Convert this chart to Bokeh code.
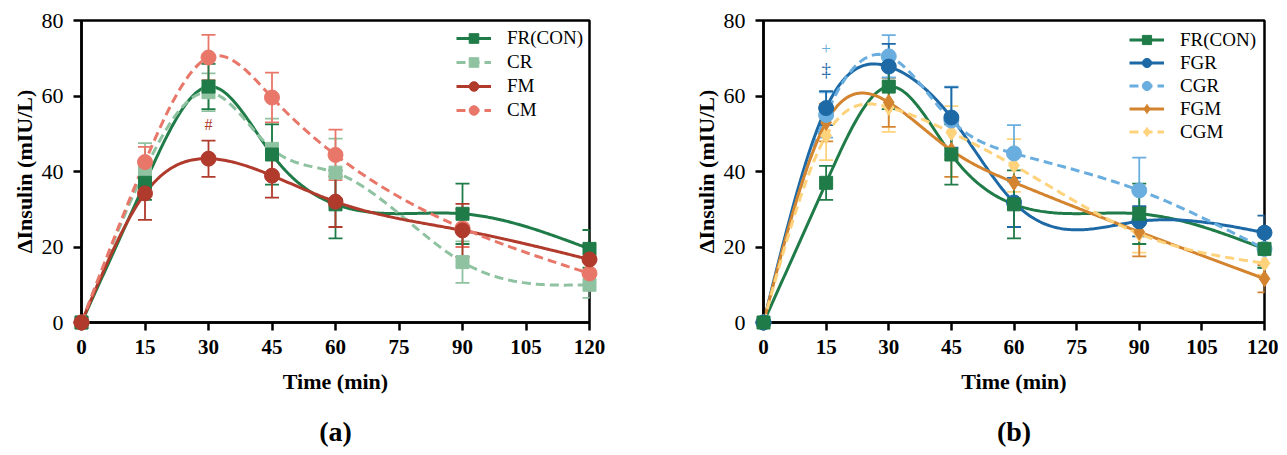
import numpy as np
from bokeh.plotting import figure
from bokeh.layouts import row
from bokeh.models import ColumnDataSource, Whisker, TeeHead, Legend, LegendItem, Title, FixedTicker, Range1d
from bokeh.core.properties import value
from bokeh.embed import file_html
from bokeh.resources import INLINE

times = [0, 15, 30, 45, 60, 90, 120]

# Panel (a)
fr_con = [0, 37.0, 62.5, 44.5, 31.3, 28.8, 19.5]
fr_con_err = [0, 4.5, 6.0, 8.0, 9.0, 8.0, 5.0]
cr = [0, 40.5, 61.0, 46.0, 39.7, 16.0, 10.0]
cr_err = [0, 7.0, 5.0, 8.0, 9.0, 5.5, 3.5]
fm = [0, 34.2, 43.4, 38.9, 32.0, 24.4, 16.7]
fm_err = [0, 7.0, 4.8, 5.8, 6.7, 7.0, 4.0]
cm = [0, 42.5, 70.2, 59.6, 44.4, 25.0, 13.0]
cm_err = [0, 4.0, 6.0, 6.6, 6.7, 5.0, 3.0]

# Panel (b)
fgr = [0, 56.8, 67.8, 54.3, 31.8, 26.8, 23.8]
fgr_err = [0, 4.5, 6.0, 8.0, 6.5, 4.0, 4.5]
cgr = [0, 55.0, 70.5, 53.5, 44.8, 35.0, 19.5]
cgr_err = [0, 6.0, 5.6, 9.0, 7.5, 8.7, 5.0]
fgm = [0, 53.0, 58.3, 45.6, 37.1, 24.0, 11.6]
fgm_err = [0, 5.0, 6.5, 7.0, 7.0, 6.5, 3.6]
cgm = [0, 49.5, 57.0, 50.3, 41.6, 23.5, 15.7]
cgm_err = [0, 6.5, 6.5, 7.0, 7.0, 5.0, 3.0]

x_ticks = [0, 15, 30, 45, 60, 75, 90, 105, 120]
y_ticks = [0, 20, 40, 60, 80]

SERIF = "'Liberation Serif', 'Times New Roman', serif"


def natural_spline(x, y, n=300):
    x = np.asarray(x, float)
    y = np.asarray(y, float)
    k = len(x)
    h = np.diff(x)
    A = np.zeros((k, k))
    b = np.zeros(k)
    A[0, 0] = 1
    A[-1, -1] = 1
    for i in range(1, k - 1):
        A[i, i - 1] = h[i - 1]
        A[i, i] = 2 * (h[i - 1] + h[i])
        A[i, i + 1] = h[i]
        b[i] = 6 * ((y[i + 1] - y[i]) / h[i] - (y[i] - y[i - 1]) / h[i - 1])
    M = np.linalg.solve(A, b)
    xs = np.linspace(x[0], x[-1], n)
    ys = np.empty_like(xs)
    for j, xv in enumerate(xs):
        i = min(np.searchsorted(x, xv, side="right") - 1, k - 2)
        t1 = x[i + 1] - xv
        t0 = xv - x[i]
        hi = h[i]
        ys[j] = (M[i] * t1 ** 3 / (6 * hi) + M[i + 1] * t0 ** 3 / (6 * hi)
                 + (y[i] / hi - M[i] * hi / 6) * t1
                 + (y[i + 1] / hi - M[i + 1] * hi / 6) * t0)
    return xs, ys


def make_panel(series, draw_order, label, left_border, frame_w, glyph_h, leg_margin, extra_texts):
    p = figure(
        frame_width=frame_w, frame_height=302,
        x_range=Range1d(0, 120), y_range=Range1d(0, 80),
        output_backend="svg", toolbar_location=None,
        min_border_left=left_border, min_border_top=20,
        min_border_right=10, min_border_bottom=10,
    )
    p.background_fill_color = "white"
    p.border_fill_color = "white"
    p.grid.visible = False
    p.outline_line_color = "black"
    p.outline_line_width = 2.5
    p.outline_line_alpha = 1

    for ax in (p.xaxis[0], p.yaxis[0]):
        ax.axis_line_width = 2.5
        ax.major_tick_line_width = 2.5
        ax.major_tick_out = 8
        ax.major_tick_in = 0
        ax.minor_tick_line_color = None
        ax.major_label_text_font = SERIF
        ax.axis_label_text_font = SERIF
        ax.axis_label_text_font_style = "bold"
        ax.axis_label_text_color = "black"
        ax.major_label_text_color = "black"
    p.xaxis.ticker = FixedTicker(ticks=x_ticks)
    p.yaxis.ticker = FixedTicker(ticks=y_ticks)
    p.xaxis.major_label_standoff = 9
    p.yaxis.major_label_standoff = 10
    p.xaxis.major_label_text_font_style = "bold"
    p.xaxis.major_label_text_font_size = "21px"
    p.yaxis.major_label_text_font_size = "22px"
    p.xaxis.axis_label = "Time (min)"
    p.xaxis.axis_label_text_font_size = "22px"
    p.xaxis.axis_label_standoff = 12
    p.yaxis.axis_label = "ΔInsulin (mIU/L)"
    p.yaxis.axis_label_text_font_size = "22px"
    p.yaxis.axis_label_standoff = 2

    lines = {}
    scats = {}
    for name, ys, errs, color, marker, dash, msize in series:
        xs, ss = natural_spline(times, ys)
        lines[name] = p.line(xs, ss, line_color=color, line_width=3, line_dash=dash)
    for name in draw_order:
        name_, ys, errs, color, marker, dash, msize = [s for s in series if s[0] == name][0]
        src = ColumnDataSource(dict(x=times, y=ys,
                                    lo=[a - e for a, e in zip(ys, errs)],
                                    hi=[a + e for a, e in zip(ys, errs)]))
        w = Whisker(source=src, base="x", lower="lo", upper="hi",
                    line_color=color, line_width=1.8,
                    upper_head=TeeHead(size=14, line_color=color, line_width=1.8),
                    lower_head=TeeHead(size=14, line_color=color, line_width=1.8))
        p.add_layout(w)
        scats[name] = p.scatter("x", "y", source=src, marker=marker, size=msize,
                                fill_color=color, line_color=color, level="overlay")

    items = [LegendItem(label=s[0], renderers=[lines[s[0]], scats[s[0]]]) for s in series]

    for (tx, ty, txt, col, sz) in extra_texts:
        p.text(x=[tx], y=[ty], text=[txt], text_color=col, text_font=value(SERIF),
               text_font_size=sz, text_align="center", text_baseline="middle")

    leg = Legend(items=items, location="top_right")
    leg.label_text_font = SERIF
    leg.label_text_font_size = "19px"
    leg.label_text_color = "black"
    leg.glyph_width = 35
    leg.glyph_height = glyph_h
    leg.label_standoff = 16
    leg.spacing = 0
    leg.padding = 0
    leg.margin = leg_margin
    leg.border_line_color = None
    leg.background_fill_alpha = 0
    p.add_layout(leg)

    t = Title(text=label, align="center", text_font=SERIF, text_font_size="28px",
              text_font_style="bold", text_color="black", standoff=34)
    p.add_layout(t, "below")
    return p


GREEN = "#1f7b47"
LGREEN = "#8fc2a1"
RED = "#b03a2c"
SALMON = "#e8776a"
BLUE = "#1c69a6"
LBLUE = "#6aaedf"
ORANGE = "#d4842f"
YELLOW = "#ffd27c"
DASH = "9 5"

series_a = [
    ("FR(CON)", fr_con, fr_con_err, GREEN, "square", "solid", 13),
    ("CR", cr, cr_err, LGREEN, "square", DASH, 13),
    ("FM", fm, fm_err, RED, "circle", "solid", 15),
    ("CM", cm, cm_err, SALMON, "circle", DASH, 15),
]
series_b = [
    ("FR(CON)", fr_con, fr_con_err, GREEN, "square", "solid", 13),
    ("FGR", fgr, fgr_err, BLUE, "circle", "solid", 15),
    ("CGR", cgr, cgr_err, LBLUE, "circle", DASH, 15),
    ("FGM", fgm, fgm_err, ORANGE, "diamond", "solid", 16),
    ("CGM", cgm, cgm_err, YELLOW, "diamond", DASH, 16),
]

pa = make_panel(series_a, ["CR", "CM", "FR(CON)", "FM"], "(a)", 81, 508, 24, 6,
                [(30, 52.5, "#", RED, "16px")])
pa.min_border_right = 40
pb = make_panel(series_b, ["CGM", "FGM", "CGR", "FGR", "FR(CON)"], "(b)", 134, 501, 23, 8,
                [(15, 72.5, "+", LBLUE, "17px"), (15, 67, "‡", BLUE, "19px")])
pb.min_border_right = 14

layout = row(pa, pb)
open("out.html", "w").write(file_html(layout, INLINE))
